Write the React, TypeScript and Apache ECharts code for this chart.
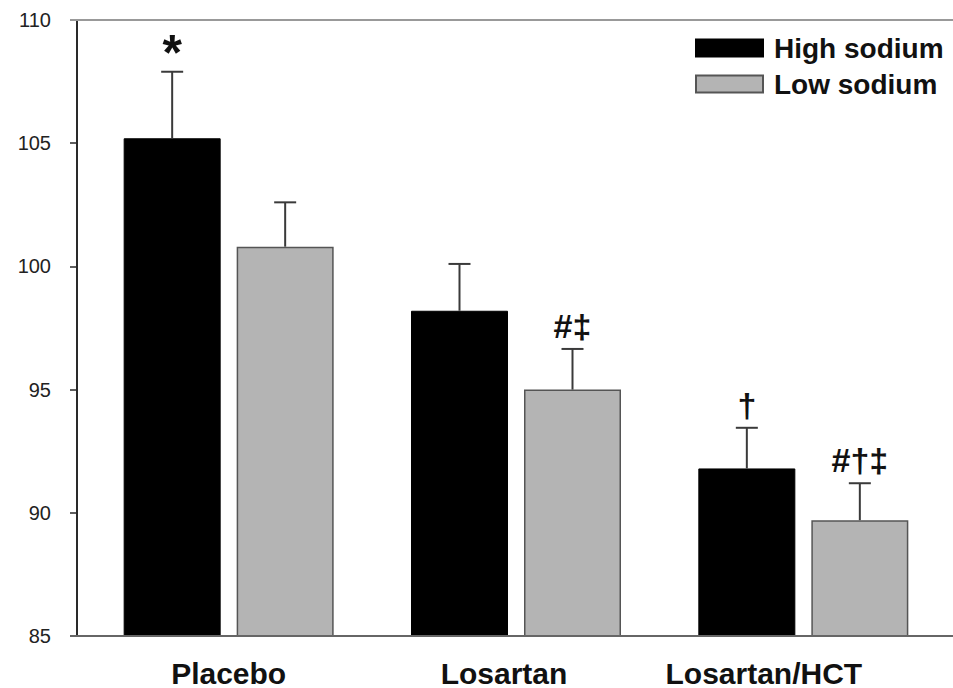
import React, { useEffect, useRef } from "react";
import * as echarts from "echarts";

const categories = ["Placebo", "Losartan", "Losartan/HCT"];
const labelShift = [0, 24, 79]; // right padding to nudge labels left like the original
const highMean = [105.2, 98.2, 91.8];
const highErrTop = [107.9, 100.1, 93.45];
const lowMean = [100.8, 95.0, 89.7];
const lowErrTop = [102.6, 96.65, 91.2];
const highAnnot = ["*", "", "†"];
const lowAnnot = ["", "#‡", "#†‡"];
const yTicks = { min: 85, max: 110, interval: 5 };

const BAR_W = 97;
const BAR_GAP = 16;
const OFFSET = (BAR_W + BAR_GAP) / 2;

function errSeries(name: string, means: number[], tops: number[], annots: string[], dir: number, annotSize: number[]) {
  return {
    type: "custom",
    name: name + "_err",
    z: 5,
    silent: true,
    renderItem: (params: any, api: any) => {
      const i = api.value(0);
      const p0 = api.coord([i, api.value(1)]);
      const p1 = api.coord([i, api.value(2)]);
      const x = p0[0] + dir * OFFSET;
      const children: any[] = [
        { type: "line", shape: { x1: x, y1: p0[1], x2: x, y2: p1[1] }, style: { stroke: "#3a3a3a", lineWidth: 2 } },
        { type: "line", shape: { x1: x - 11, y1: p1[1], x2: x + 11, y2: p1[1] }, style: { stroke: "#3a3a3a", lineWidth: 2 } },
      ];
      const a = annots[params.dataIndex];
      if (a) {
        const isStar = a === "*";
        children.push({
          type: "text",
          x: x,
          y: p1[1] - (isStar ? -6 : 6),
          style: {
            text: a,
            textAlign: "center",
            textVerticalAlign: "bottom",
            fontFamily: "Liberation Sans, Arial, sans-serif",
            fontWeight: "bold",
            fontSize: annotSize[params.dataIndex],
            fill: "#111",
          },
        });
      }
      return { type: "group", children };
    },
    encode: { x: 0, y: [1, 2] },
    data: means.map((m, i) => [i, m, tops[i]]),
  };
}

export default function App() {
  const ref = useRef<HTMLDivElement>(null);
  useEffect(() => {
    if (!ref.current) return;
    const chart = echarts.init(ref.current, null, { renderer: "svg" });
    chart.setOption({
      animation: false,
      backgroundColor: "#ffffff",
      grid: { left: 85, right: 6, top: 20, bottom: 52 },
      legend: {
        orient: "vertical",
        left: 690,
        top: 29,
        itemWidth: 67,
        itemHeight: 17,
        itemGap: 8,
        icon: "rect",
        data: ["High sodium", "Low sodium"],
        textStyle: {
          fontFamily: "Liberation Sans, Arial, sans-serif",
          fontWeight: "bold",
          fontSize: 28,
          color: "#111",
          padding: [0, 0, 0, 6],
        },
      },
      xAxis: {
        type: "category",
        data: categories.map((c, i) => ({ value: c, textStyle: { padding: [0, labelShift[i], 0, 0] } })),
        axisLine: { show: false },
        axisTick: { show: false },
        axisLabel: {
          margin: 22,
          fontFamily: "Liberation Sans, Arial, sans-serif",
          fontWeight: "bold",
          fontSize: 30,
          color: "#111",
        },
      },
      yAxis: {
        type: "value",
        min: yTicks.min,
        max: yTicks.max,
        interval: yTicks.interval,
        offset: 8,
        splitLine: { show: false },
        axisLine: { show: true, lineStyle: { color: "#2a2a2a", width: 2 } },
        axisTick: { show: true, inside: false, length: 7, lineStyle: { color: "#2a2a2a", width: 1.5 } },
        axisLabel: {
          margin: 26,
          fontFamily: "Liberation Sans, Arial, sans-serif",
          fontSize: 20,
          color: "#222",
        },
      },
      graphic: [
        { type: "line", shape: { x1: 70, y1: 20, x2: 953, y2: 20 }, style: { stroke: "#999", lineWidth: 2 }, z: 10 },
        { type: "line", shape: { x1: 70, y1: 636, x2: 953, y2: 636 }, style: { stroke: "#666", lineWidth: 2 }, z: 10 },
      ],
      series: [
        {
          name: "High sodium",
          type: "bar",
          data: highMean,
          barWidth: BAR_W,
          barGap: (BAR_GAP / BAR_W) * 100 + "%",
          itemStyle: { color: "#000000", borderColor: "#000000", borderWidth: 1 },
        },
        {
          name: "Low sodium",
          type: "bar",
          data: lowMean,
          barWidth: BAR_W,
          itemStyle: { color: "#b4b4b4", borderColor: "#555555", borderWidth: 1.5 },
        },
        errSeries("High sodium", highMean, highErrTop, highAnnot, -1, [50, 34, 34]),
        errSeries("Low sodium", lowMean, lowErrTop, lowAnnot, 1, [34, 34, 34]),
      ],
    });
    return () => chart.dispose();
  }, []);
  return <div ref={ref} style={{ position: "fixed", left: 0, top: 0, width: 953, height: 688 }} />;
}
